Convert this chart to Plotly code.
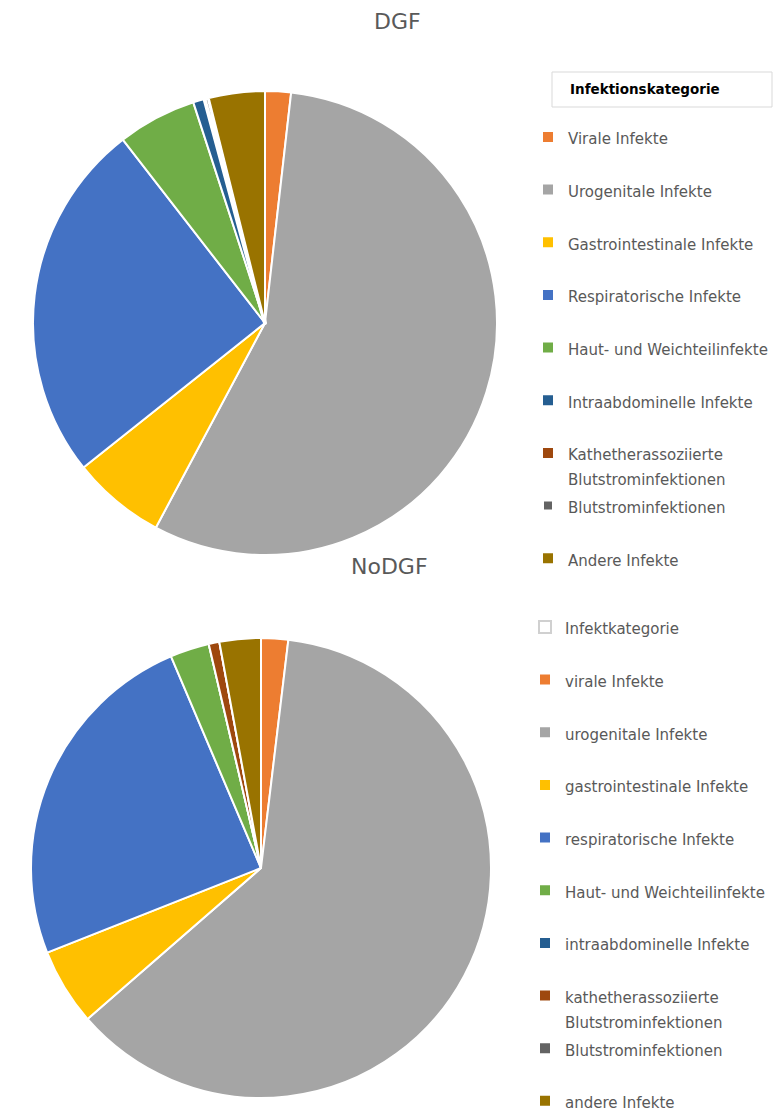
import plotly.graph_objects as go

# page is 782x1113; the html body adds an 8px margin, so the figure is 8px smaller
OFF = 8
W, H = 782 - OFF, 1113 - OFF

# ---- data ----
dgf_labels = ["Virale Infekte", "Urogenitale Infekte", "Gastrointestinale Infekte",
              "Respiratorische Infekte", "Haut- und Weichteilinfekte",
              "Intraabdominelle Infekte", "Kathetherassoziierte<br>Blutstrominfektionen",
              "Blutstrominfektionen", "Andere Infekte"]
dgf_values = [1.8, 56.0, 6.5, 25.2, 5.5, 0.8, 0.0, 0.3, 3.9]

nodgf_labels = ["Infektkategorie", "virale Infekte", "urogenitale Infekte",
                "gastrointestinale Infekte", "respiratorische Infekte",
                "Haut- und Weichteilinfekte", "intraabdominelle Infekte",
                "kathetherassoziierte<br>Blutstrominfektionen",
                "Blutstrominfektionen", "andere Infekte"]
nodgf_values = [0.0, 1.9, 61.7, 5.4, 24.6, 2.75, 0.0, 0.75, 0.0, 2.9]

dgf_colors = ["#ED7D31", "#A5A5A5", "#FFC000", "#4472C4", "#70AD47",
              "#255E91", "#9E480E", "#636363", "#997300"]
nodgf_colors = ["#FFFFFF"] + dgf_colors

TEXT_GREY = "#595959"
LEG_FS = 19.1      # controls row spacing (2 lines per row)
TXT_FS = 15        # visible text size
FONT = "DejaVu Sans"


def fmt(lbl, tag, last=False):
    n_lines = lbl.count("<br>") + 1
    pad = "" if last else "<br> " * (2 - n_lines)
    return f"<span style='font-size:{TXT_FS}px;{tag}'>{lbl}</span>{pad}"


def px_x(v):
    return (v - OFF) / W


def px_y(v):
    return 1 - (v - OFF) / H


fig = go.Figure()

dgf_line_w = [2, 2, 2, 2, 2, 2, 2, 4, 2]
fig.add_trace(go.Pie(
    labels=[fmt(l, "") for l in dgf_labels],
    values=dgf_values,
    marker=dict(colors=dgf_colors, line=dict(color="white", width=dgf_line_w)),
    sort=False, direction="clockwise", rotation=0,
    textinfo="none", textposition="none",
    domain=dict(x=[px_x(33), px_x(497)], y=[px_y(555), px_y(91)]),
    legend="legend", hoverinfo="label+percent", name="DGF",
))

nodgf_line = ["#D0D0D0"] + ["white"] * (len(nodgf_labels) - 1)
fig.add_trace(go.Pie(
    labels=[fmt(l, " ", last=(i == len(nodgf_labels) - 1)) for i, l in enumerate(nodgf_labels)],
    values=nodgf_values,
    marker=dict(colors=nodgf_colors, line=dict(color=nodgf_line, width=2)),
    sort=False, direction="clockwise", rotation=0,
    textinfo="none", textposition="none",
    domain=dict(x=[px_x(31), px_x(491)], y=[px_y(1098), px_y(638)]),
    legend="legend2", hoverinfo="label+percent", name="NoDGF",
))

leg_common = dict(
    font=dict(family=FONT, size=LEG_FS, color=TEXT_GREY),
    valign="top", xanchor="left", yanchor="top",
    bgcolor="rgba(0,0,0,0)", traceorder="normal",
)

fig.update_layout(
    width=W, height=H,
    paper_bgcolor="white", plot_bgcolor="white",
    margin=dict(l=0, r=0, t=0, b=0, autoexpand=False),
    legend=dict(x=px_x(528), y=px_y(118), **leg_common),
    legend2=dict(x=px_x(525), y=px_y(608), **leg_common),
    annotations=[
        dict(text="DGF", x=px_x(397), y=px_y(22), xref="paper", yref="paper",
             showarrow=False, xanchor="center", yanchor="middle",
             font=dict(family=FONT, size=22, color=TEXT_GREY)),
        dict(text="NoDGF", x=px_x(389), y=px_y(566), xref="paper", yref="paper",
             showarrow=False, xanchor="center", yanchor="middle",
             font=dict(family=FONT, size=22, color=TEXT_GREY)),
        dict(text="<b>Infektionskategorie</b>", x=px_x(568), y=px_y(89.5),
             xref="paper", yref="paper", showarrow=False,
             xanchor="left", yanchor="middle",
             font=dict(family=FONT, size=13.5, color="#000000")),
    ],
    shapes=[
        dict(type="rect", xref="paper", yref="paper",
             x0=px_x(552), x1=px_x(772), y0=px_y(107), y1=px_y(72),
             line=dict(color="#D9D9D9", width=1), fillcolor="rgba(0,0,0,0)"),
    ],
)

fig.write_html("out.html")
